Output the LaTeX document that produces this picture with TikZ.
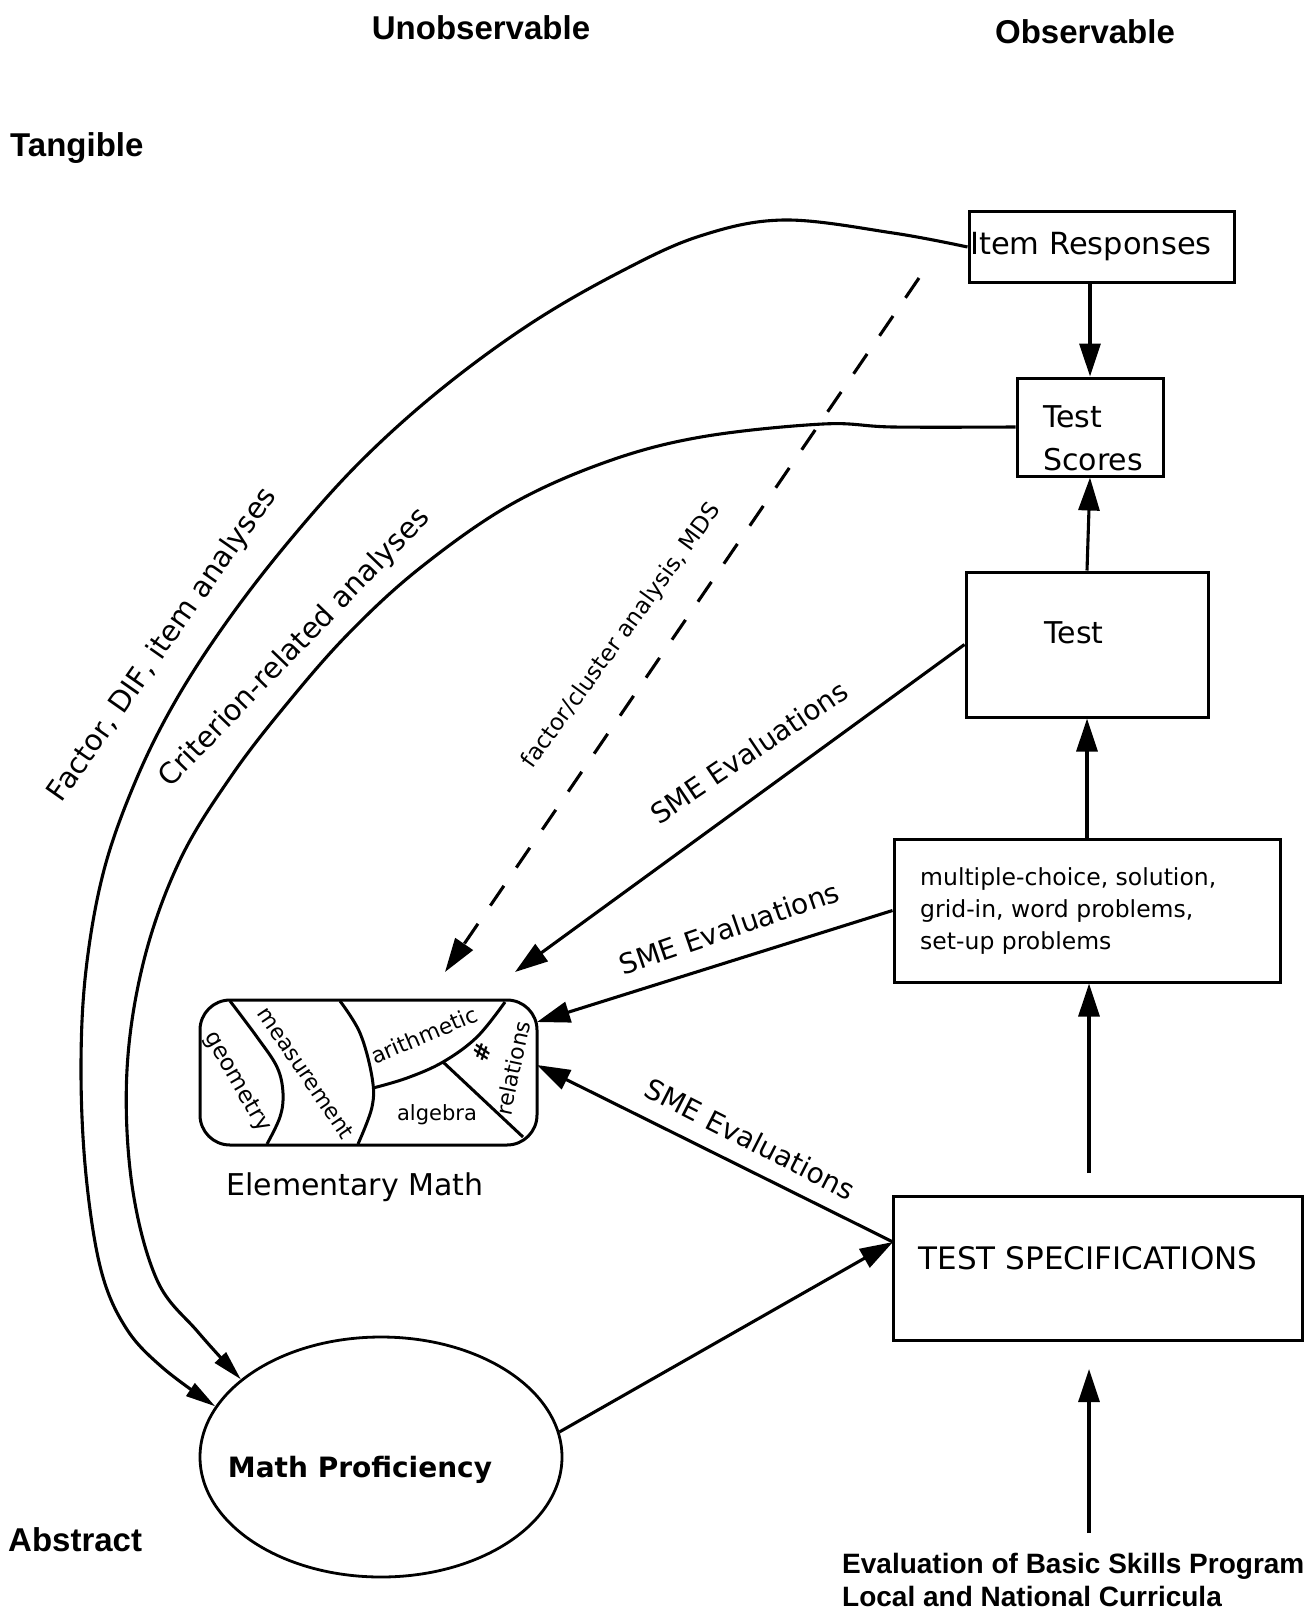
\documentclass[tikz,border=0pt]{standalone}
\usepackage{fontspec}
\setmainfont{DejaVu Sans}
\newfontfamily\arialfont{Liberation Sans}
\usetikzlibrary{arrows.meta,shapes.geometric}
\begin{document}
\begin{tikzpicture}[x=1pt,y=-1pt,
  ln/.style={line width=3.1pt},
  arr/.style={ln,-{Triangle[length=33pt,width=21pt]}},
  carr/.style={ln,-{Triangle[length=30pt,width=15pt]}},
  boxn/.style={draw,line width=3pt,rectangle,inner sep=0pt},
  txt/.style={font=\fontsize{30}{36}\selectfont,inner sep=0pt},
  hdr/.style={font=\arialfont\bfseries\fontsize{33}{40}\selectfont,inner sep=0pt},
  small/.style={font=\fontsize{22}{26}\selectfont,inner sep=0pt},
  sme/.style={font=\fontsize{28}{34}\selectfont,inner sep=0pt},
  edge/.style={font=\fontsize{29}{34}\selectfont,inner sep=0pt},
  divl/.style={line width=3pt}
]
\fill[white] (0,0) rectangle (1311,1613);
\useasboundingbox (0,0) rectangle (1311,1613);

% headers
\node[hdr] (hunobs) at (481,28) {Unobservable};
\node[hdr] (hobs) at (1085,32) {Observable};
\node[hdr,anchor=west] (htang) at (10,148) {Tangible};
\node[hdr,anchor=west] (habs) at (8,1540) {Abstract};

% right column boxes
\node[boxn,minimum width=265pt,minimum height=70pt] (ir) at (1101.5,247) {};
\node[txt,anchor=west,font=\fontsize{30.5}{36}\selectfont] (irt) at (970,247) {Item Responses};
\node[boxn,minimum width=146pt,minimum height=98pt] (ts) at (1090,427) {};
\node[txt,anchor=west,align=left,font=\fontsize{30}{43}\selectfont] (tst) at (1043,438) {Test\\Scores};
\node[boxn,minimum width=242pt,minimum height=145pt] (test) at (1087,644.5) {};
\node[txt] (testt) at (1074,633) {Test};
\node[boxn,minimum width=386pt,minimum height=143pt] (mc) at (1087,910.5) {};
\node[anchor=west,align=left,inner sep=0pt,font=\fontsize{23.5}{32}\selectfont] (mct) at (920,911)
  {multiple-choice, solution,\\grid-in, word problems,\\set-up problems};
\node[boxn,minimum width=409pt,minimum height=144pt] (spec) at (1097.5,1268) {};
\node[txt,font=\fontsize{31}{36}\selectfont] (spect) at (1088,1258) {TEST SPECIFICATIONS};
\node[anchor=west,align=left,inner sep=0pt,font=\arialfont\bfseries\fontsize{28}{33}\selectfont] (src) at (842,1580)
  {Evaluation of Basic Skills Program\\Local and National Curricula};

% Elementary Math
\node[draw,rounded corners=30pt,line width=3pt,minimum width=337pt,minimum height=145pt,inner sep=0pt] (em) at (368.5,1072.5) {};
\draw[divl] plot[smooth,tension=0.6] coordinates {(230,1001) (257,1037) (277,1067) (283,1093) (280,1117) (267,1144)};
\draw[divl] plot[smooth,tension=0.6] coordinates {(340,1001) (360,1033) (372,1077) (372,1107) (358,1144)};
\draw[divl] plot[smooth,tension=0.6] coordinates {(373,1088) (407,1078) (443,1062) (477,1037) (505,1002)};
\draw[divl] (443,1062) -- (523,1137);
\node[small,rotate=-60,font=\fontsize{23}{26}\selectfont] (lgeo) at (237,1082) {geometry};
\node[small,rotate=-56] (lmeas) at (306,1073) {measurement};
\node[small,rotate=23] (lari) at (424,1035) {arithmetic};
\node[small,rotate=70,font=\bfseries\fontsize{22}{26}\selectfont] (lnum) at (482,1052) {\#};
\node[small,rotate=78] (lrel) at (513,1068) {relations};
\node[small,font=\fontsize{21}{26}\selectfont] (lalg) at (437,1115) {algebra};
\node[txt] (emt) at (355,1187) {Elementary Math};

% Math Proficiency
\node[draw,ellipse,line width=2.8pt,minimum width=362pt,minimum height=240pt,inner sep=0pt] (mp) at (381,1457) {};
\node[txt,font=\bfseries\fontsize{28}{34}\selectfont] (mpt) at (360,1470) {Math Proficiency};

% vertical arrows
\draw[arr] (ts.north |- ir.south) -- (ts.north);
\draw[arr] (test.north) -- (ts.south);
\draw[arr] (mc.north) -- (test.south);
\coordinate (specup) at (1089,1173);
\draw[arr] (specup) -- (specup |- mc.south);
\coordinate (srctop) at (1089,1533);
\coordinate (specdn) at (1089,1369);
\draw[arr] (srctop) -- (specdn);

% SME arrows
\coordinate (emA) at (515,972);
\coordinate (emB) at (537,1022);
\coordinate (emC) at (537,1065);
\coordinate (specL) at (893,1242);
\draw[arr] (test.west) -- (emA);
\draw[arr] (mc.west) -- (emB);
\draw[arr] (specL) -- (emC);
\draw[arr] (mp.8) -- (specL);
\node[sme,rotate=34] (sme1) at (749,752) {SME Evaluations};
\node[sme,rotate=19] (sme2) at (729,928) {SME Evaluations};
\node[sme,rotate=-27] (sme3) at (750,1139) {SME Evaluations};

% dashed
\coordinate (dA) at (919,278);
\coordinate (dB) at (445,972);
\draw[ln,dash pattern=on 24pt off 22pt,-{Triangle[length=34pt,width=21pt]}] (dA) -- (dB);
\node[inner sep=0pt,font=\fontsize{23}{28}\selectfont,rotate=54] (fca) at (622,636) {factor/cluster analysis, MDS};

% curves
\draw[carr] plot[smooth,tension=0.6] coordinates {(ir.west) (893,233) (784,220) (700,236) (620,272) (530,324) (440,390) (360,462) (290,540) (228,620) (176,700) (136,780) (104,870) (86,970) (81,1070) (86,1175) (101,1270) (126,1328) (163,1368) (mp.163)};
\draw[carr] plot[smooth,tension=0.6] coordinates {(ts.west) (893,427) (823,424) (701,437) (606,462) (510,505) (420,568) (350,632) (290,700) (232,775) (180,860) (144,960) (127,1070) (132,1185) (157,1280) (198,1332) (mp.151)};
\node[edge,rotate=55] (fdif) at (163,645) {Factor, DIF, item analyses};
\node[edge,rotate=46] (crit) at (295,648) {Criterion-related analyses};
\end{tikzpicture}
\end{document}
